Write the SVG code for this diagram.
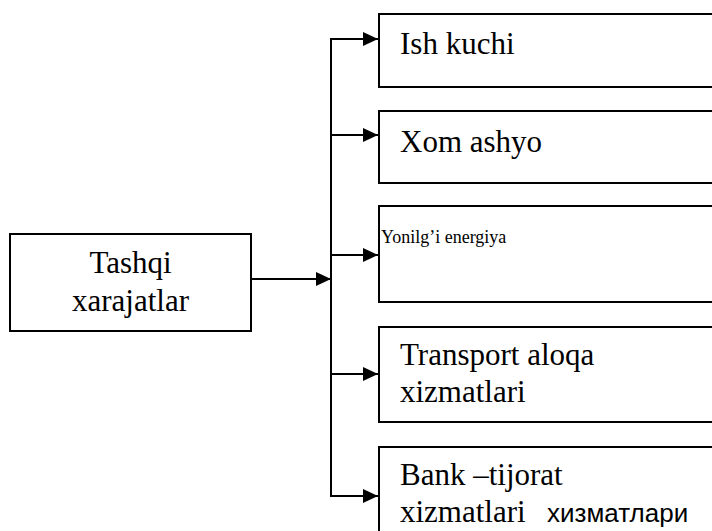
<svg xmlns="http://www.w3.org/2000/svg" width="712" height="531" viewBox="0 0 712 531">
<style>
.box{fill:#fff;stroke:#000;stroke-width:2}
.lbl{font-family:"Liberation Serif","Times New Roman",Times,serif;font-size:31px;fill:#000}
.lbls{font-family:"Liberation Serif","Times New Roman",Times,serif;font-size:18px;fill:#000}
.cyr{font-family:"Liberation Sans",Arial,sans-serif;font-size:26px;fill:#000}
.c{fill:none;stroke:#000;stroke-width:2}
</style>
<defs>
<marker id="ah" markerUnits="userSpaceOnUse" markerWidth="15" markerHeight="14" refX="15" refY="7" orient="auto">
<path d="M0,0 L15,7 L0,14 z" fill="#000"/>
</marker>
</defs>
<rect width="712" height="531" fill="#fff"/>
<g id="connectors">
<line class="c" x1="251" y1="279" x2="331" y2="279" marker-end="url(#ah)"/>
<line class="c" x1="331" y1="39" x2="331" y2="497"/>
<line class="c" x1="330" y1="39" x2="378" y2="39" marker-end="url(#ah)"/>
<line class="c" x1="330" y1="135" x2="378" y2="135" marker-end="url(#ah)"/>
<line class="c" x1="330" y1="255" x2="378" y2="255" marker-end="url(#ah)"/>
<line class="c" x1="330" y1="374" x2="378" y2="374" marker-end="url(#ah)"/>
<line class="c" x1="330" y1="496" x2="378" y2="496" marker-end="url(#ah)"/>
</g>
<g id="tashqi">
<rect class="box" x="10" y="234" width="241" height="97"/>
<text class="lbl" x="130.5" y="273" text-anchor="middle">Tashqi</text>
<text class="lbl" x="130.5" y="311" text-anchor="middle">xarajatlar</text>
</g>
<g id="ish-kuchi">
<rect class="box" x="379" y="14" width="360" height="73"/>
<text class="lbl" x="400" y="54">Ish kuchi</text>
</g>
<g id="xom-ashyo">
<rect class="box" x="379" y="111" width="360" height="72"/>
<text class="lbl" x="400" y="152">Xom ashyo</text>
</g>
<g id="yonilgi">
<rect class="box" x="379" y="206" width="360" height="96"/>
<text class="lbls" x="381" y="243">Yonilg’i energiya</text>
</g>
<g id="transport">
<rect class="box" x="379" y="327" width="360" height="95"/>
<text class="lbl" x="400" y="365">Transport aloqa</text>
<text class="lbl" x="400" y="402">xizmatlari</text>
</g>
<g id="bank">
<rect class="box" x="379" y="447" width="360" height="110"/>
<text class="lbl" x="400" y="485">Bank –tijorat</text>
<text class="lbl" x="400" y="522">xizmatlari</text>
<text class="cyr" x="547" y="522">хизматлари</text>
</g>
</svg>
